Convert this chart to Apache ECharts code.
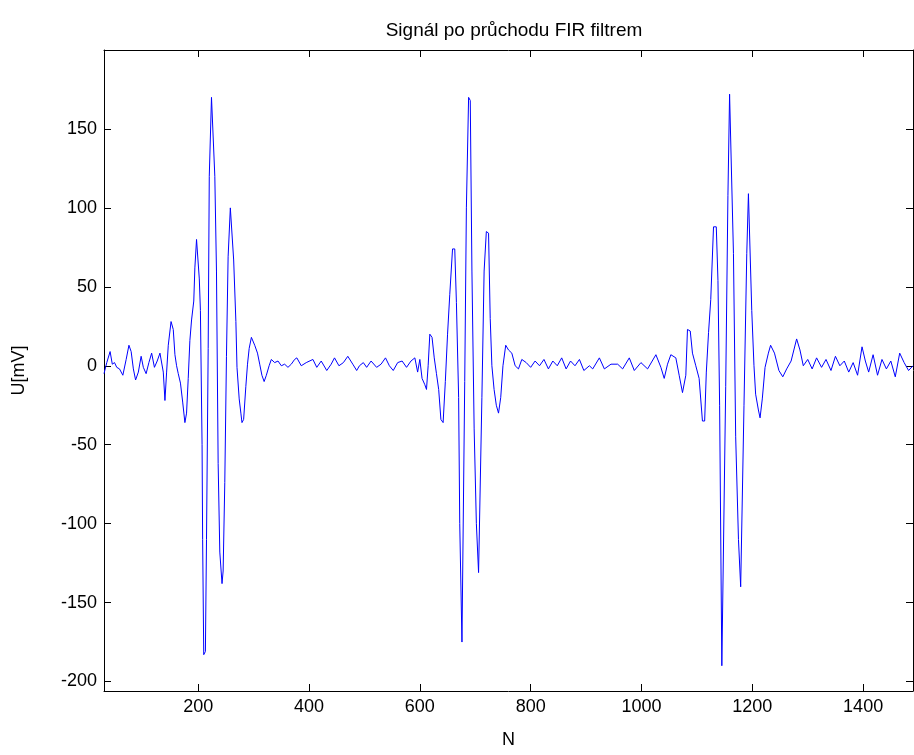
<!DOCTYPE html>
<html>
<head>
<meta charset="utf-8">
<title>Signál po průchodu FIR filtrem</title>
<script src="https://cdn.jsdelivr.net/npm/echarts@6/dist/echarts.min.js"></script>
</head>
<body style="margin:0px;background:#fff;">
<div id="main" style="width:914px;height:755px;"></div>
<script type="text/javascript">
// vzorky (N) a napeti U[mV]
var sampleN = [
  30, 35, 41, 45, 49, 53, 58, 64, 70, 75, 79, 83, 87, 92, 97, 101, 106, 111, 116, 121, 126, 131,
  137, 140, 143, 146, 151, 155, 158, 161, 164, 168, 172, 176, 179, 182, 185, 188, 192, 194, 197, 200,
  202, 204, 207, 208, 210, 213, 215, 218, 220, 224, 227, 230, 233, 236, 239, 243, 245, 248, 251, 254,
  258, 261, 264, 268, 270, 274, 277, 279, 282, 286, 289, 292, 296, 302, 307, 311, 315, 319, 323, 328,
  332, 338, 344, 350, 356, 362, 368, 374, 378, 386, 395, 407, 414, 422, 432, 440, 446, 454, 462, 470,
  479, 486, 491, 498, 504, 512, 522, 530, 538, 545, 552, 560, 568, 576, 584, 591, 596, 600,
  604, 609, 612, 615, 618, 622, 626, 630, 634, 638, 642, 646, 650, 654, 659, 663, 666, 670, 672, 676,
  678, 681, 684, 688, 691, 694, 698, 702, 706, 709, 712, 716, 720, 724, 727, 730, 734, 738, 742, 746,
  750, 755, 760, 766, 772, 778, 784, 792, 800, 808, 816, 824, 832, 840, 848, 856, 864, 872, 880, 888,
  896, 906, 912, 924, 933, 945, 957, 966, 978, 987, 999, 1011, 1026, 1035, 1041, 1047, 1053, 1062, 1068, 1074,
  1080, 1083, 1088, 1092, 1098, 1104, 1110, 1114, 1117, 1121, 1125, 1130, 1135, 1138, 1141, 1145, 1148, 1152,
  1156, 1159, 1162, 1166, 1170, 1175, 1179, 1182, 1185, 1190, 1193, 1196, 1199, 1203, 1206, 1211, 1214, 1218,
  1223, 1229, 1233, 1240, 1248, 1255, 1262, 1270, 1280, 1286, 1292, 1300, 1308, 1316, 1325, 1333, 1342, 1350,
  1358, 1366, 1374, 1382, 1390, 1398, 1404, 1410, 1418, 1426, 1434, 1442, 1450, 1458, 1466, 1474, 1482, 1490
];
var voltage = [
  -5, 2, 9, 1, 2, -1, -2, -6, 4, 13, 9, -2, -9, -4, 6, -1, -5, 2, 8, -1, 3, 8,
  -4, -22, -4, 13, 28, 23, 7, 0, -5, -11, -23, -36, -30, -8, 16, 29, 41, 62, 80, 80,
  55, 35, -50, -110, -183, -181, -110, 11, 120, 170, 170, 120, 60, -62, -118, -138, -130, -74, 6, 69,
  100, 100, 67, 28, -1, -21, -30, -36, -34, -13, 1, 11, 18, 13, 8, 1, -6, -10, -6, 0,
  4, 2, 3, 0, 1, -1, 1, 4, 5, 0, 2, 4, -1, 3, -3, 1, 5, 0, 2, 6,
  1, -3, 0, 2, -1, 3, -1, 1, 5, 0, -3, 2, 3, -1, 3, 5, -4, 4,
  -8, -12, -15, 0, 20, 18, 5, -5, -15, -34, -36, -10, 20, 45, 74, 74, 40, -20, -100, -175,
  -175, -10, 100, 170, 168, 60, -40, -100, -131, -131, -20, 60, 85, 84, 30, 0, -15, -25, -30, -20,
  0, 13, 10, 8, 0, -2, 4, 2, -1, 3, 0, 4, -2, 3, 0, 5, -2, 3, 0, 4,
  -3, 0, -2, 5, -2, 1, 1, -2, 5, -3, 2, -2, 7, -1, -8, 1, 7, 5, -6, -17,
  -6, 23, 22, 8, 0, -8, -35, -35, -4, 21, 42, 88, 88, 54, -25, -190, -190, -13,
  108, 172, 171, 71, -45, -110, -140, -140, -25, 71, 109, 108, 35, 0, -18, -28, -33, -21,
  -1, 8, 13, 8, -3, -7, -2, 3, 17, 10, 0, 4, -2, 5, -1, 4, -3, 6,
  0, 3, -4, 2, -6, 12, 3, -4, 7, -6, 4, -2, 3, -7, 8, 2, -3, 0
];
var xTicks = [200, 400, 600, 800, 1000, 1200, 1400];
var yTicks = [-200, -150, -100, -50, 0, 50, 100, 150];

var signal = sampleN.map(function (n, i) { return [n, voltage[i]]; });

var myChart = echarts.init(document.getElementById('main'));
var fontFam = 'Liberation Sans, Arial, sans-serif';
var tickFmt = function (v) { return String(v); };

function xAx(pos, labels) {
  return {
    type: 'value', position: pos, min: 30, max: 1490, splitNumber: 7,
    axisLine: { show: true, onZero: false, lineStyle: { color: '#000', width: 1 } },
    axisTick: { show: true, inside: true, length: 7, lineStyle: { color: '#000' } },
    axisLabel: { show: labels, showMinLabel: false, showMaxLabel: false, color: '#000',
      fontSize: 18, fontFamily: fontFam, margin: 7, formatter: tickFmt },
    splitLine: { show: false },
    name: labels ? 'N' : '', nameLocation: 'middle', nameGap: 40,
    nameTextStyle: { color: '#000', fontSize: 18, fontFamily: fontFam }
  };
}
function yAx(pos, labels) {
  return {
    type: 'value', position: pos, min: -206, max: 200, splitNumber: 8,
    axisLine: { show: true, onZero: false, lineStyle: { color: '#000', width: 1 } },
    axisTick: { show: true, inside: true, length: 7, lineStyle: { color: '#000' } },
    axisLabel: { show: labels, showMinLabel: false, showMaxLabel: false, color: '#000',
      fontSize: 18, fontFamily: fontFam, margin: 7, formatter: tickFmt },
    splitLine: { show: false },
    name: labels ? 'U[mV]' : '', nameLocation: 'middle', nameGap: 76, nameRotate: 90,
    nameTextStyle: { color: '#000', fontSize: 18, fontFamily: fontFam }
  };
}

myChart.setOption({
  animation: false,
  backgroundColor: '#fff',
  title: {
    text: 'Signál po průchodu FIR filtrem',
    left: 509, top: 16, textAlign: 'center',
    textStyle: { color: '#000', fontSize: 19, fontWeight: 'normal', fontFamily: fontFam }
  },
  grid: { left: 104, top: 50, right: 1, bottom: 64 },
  xAxis: [xAx('bottom', true), xAx('top', false)],
  yAxis: [yAx('left', true), yAx('right', false)],
  series: [{
    name: 'signal',
    type: 'line',
    data: signal,
    showSymbol: false,
    clip: true,
    lineStyle: { color: '#0000ff', width: 1 }
  }]
});
</script>
</body>
</html>
